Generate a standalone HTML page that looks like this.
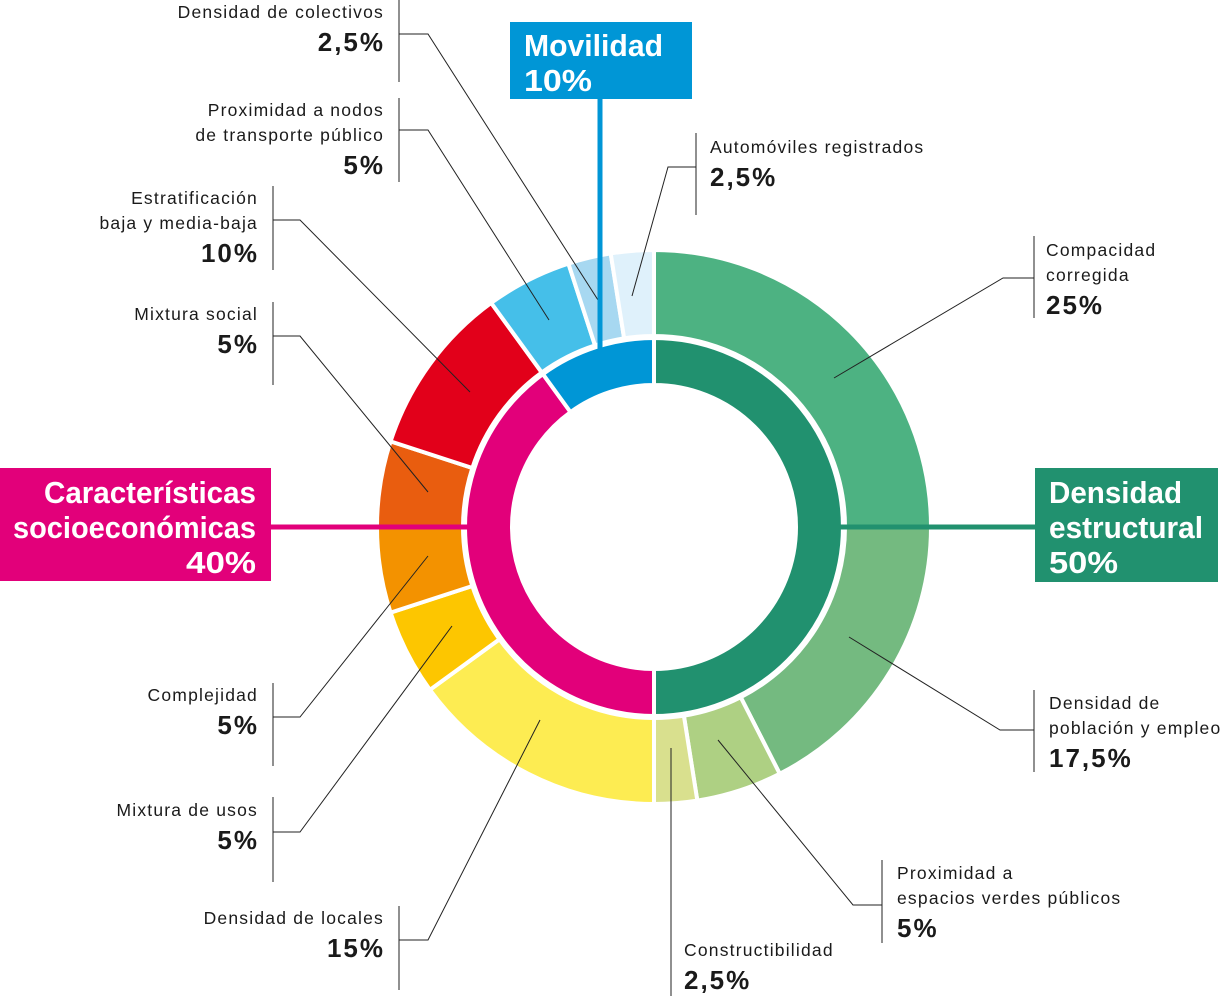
<!DOCTYPE html>
<html><head><meta charset="utf-8"><style>
body{margin:0;background:#fff;}
svg{display:block;font-family:"Liberation Sans",sans-serif;}
.l{font-size:17.5px;fill:#1a1a1a;letter-spacing:1.2px;}
.p{font-size:26px;font-weight:bold;fill:#1a1a1a;letter-spacing:2px;}
.b{font-size:31px;font-weight:bold;fill:#fff;}
</style></head><body>
<svg id="s" width="1231" height="996" viewBox="0 0 1231 996" xmlns="http://www.w3.org/2000/svg">
<g id="donut"></g>
<g stroke="#222" stroke-width="1" fill="none">
<line x1="399" y1="0" x2="399" y2="82"/><polyline points="399,34 428,34 598,300"/>
<line x1="399" y1="98" x2="399" y2="182"/><polyline points="399,130 428,130 549,320"/>
<line x1="273" y1="186" x2="273" y2="270"/><polyline points="273,220 300,220 470,392"/>
<line x1="273" y1="302" x2="273" y2="385"/><polyline points="273,336 300,336 428,492"/>
<line x1="273" y1="683" x2="273" y2="766"/><polyline points="273,717 300,717 428,556"/>
<line x1="273" y1="797" x2="273" y2="882"/><polyline points="273,832 300,832 452,626"/>
<line x1="399" y1="906" x2="399" y2="990"/><polyline points="399,940 428,940 540,720"/>
<line x1="671" y1="748" x2="671" y2="996"/>
<line x1="882" y1="860" x2="882" y2="943"/><polyline points="882,905 853,905 718,740"/>
<line x1="1034" y1="690" x2="1034" y2="772"/><polyline points="1034,730 1000,730 849,637"/>
<line x1="1034" y1="236" x2="1034" y2="318"/><polyline points="1034,278 1003,278 834,378"/>
<line x1="696" y1="133" x2="696" y2="215"/><polyline points="696,167 668,167 632,296"/>
</g>
<line x1="271" y1="527" x2="470" y2="527" stroke="#e2007a" stroke-width="5"/>
<line x1="838" y1="527" x2="1036" y2="527" stroke="#21916f" stroke-width="5"/>
<line x1="600" y1="98" x2="600" y2="350" stroke="#0096d6" stroke-width="5"/>
<rect x="0" y="468" width="271" height="113" fill="#e2007a"/>
<text class="b" x="44" y="503" textLength="212" lengthAdjust="spacingAndGlyphs">Características</text>
<text class="b" x="13" y="538" textLength="243" lengthAdjust="spacingAndGlyphs">socioeconómicas</text>
<text class="b" x="186" y="573" textLength="70" lengthAdjust="spacingAndGlyphs">40%</text>
<rect x="1035" y="468" width="183" height="114" fill="#21916f"/>
<text class="b" x="1049" y="503" textLength="133" lengthAdjust="spacingAndGlyphs">Densidad</text>
<text class="b" x="1049" y="538" textLength="154" lengthAdjust="spacingAndGlyphs">estructural</text>
<text class="b" x="1049" y="573" textLength="69" lengthAdjust="spacingAndGlyphs">50%</text>
<rect x="510" y="22" width="182" height="77" fill="#0096d6"/>
<text class="b" x="524" y="56" textLength="139" lengthAdjust="spacingAndGlyphs">Movilidad</text>
<text class="b" x="524" y="91" textLength="68" lengthAdjust="spacingAndGlyphs">10%</text>
<g class="l" text-anchor="end">
<text x="384" y="18">Densidad de colectivos</text>
<text x="384" y="116">Proximidad a nodos</text><text x="384" y="141">de transporte público</text>
<text x="258" y="204">Estratificación</text><text x="258" y="229">baja y media-baja</text>
<text x="258" y="320">Mixtura social</text>
<text x="258" y="701">Complejidad</text>
<text x="258" y="816">Mixtura de usos</text>
<text x="384" y="924">Densidad de locales</text>
</g>
<g class="p" text-anchor="end">
<text x="385" y="51">2,5%</text><text x="385" y="174">5%</text><text x="259" y="262">10%</text>
<text x="259" y="353">5%</text><text x="259" y="734">5%</text><text x="259" y="849">5%</text><text x="385" y="957">15%</text>
</g>
<g class="l">
<text x="684" y="956">Constructibilidad</text>
<text x="897" y="879">Proximidad a</text><text x="897" y="904">espacios verdes públicos</text>
<text x="1049" y="709">Densidad de</text><text x="1049" y="734">población y empleo</text>
<text x="1046" y="256">Compacidad</text><text x="1046" y="281">corregida</text>
<text x="710" y="153">Automóviles registrados</text>
</g>
<g class="p">
<text x="684" y="989">2,5%</text><text x="897" y="937">5%</text><text x="1049" y="767">17,5%</text>
<text x="1046" y="314">25%</text><text x="710" y="186">2,5%</text>
</g>
</svg>
<script>
var cx=654,cy=527,g=document.getElementById('donut');
function arc(a0,a1,r0,r1,c){
 function pt(a,r){var t=(a-90)*Math.PI/180;return (cx+r*Math.cos(t)).toFixed(2)+','+(cy+r*Math.sin(t)).toFixed(2);}
 var lg=(a1-a0)>180?1:0;
 var d='M'+pt(a0,r1)+'A'+r1+','+r1+' 0 '+lg+' 1 '+pt(a1,r1)+'L'+pt(a1,r0)+'A'+r0+','+r0+' 0 '+lg+' 0 '+pt(a0,r0)+'Z';
 var p=document.createElementNS('http://www.w3.org/2000/svg','path');
 p.setAttribute('d',d);p.setAttribute('fill',c);p.setAttribute('stroke','#fff');p.setAttribute('stroke-width','4');g.appendChild(p);
}
var outer=[[0,90,'#4db282'],[90,153,'#74ba80'],[153,171,'#aed083'],[171,180,'#d9e08e'],[180,234,'#fdec52'],[234,252,'#fdc600'],[252,270,'#f39200'],[270,288,'#e95d0f'],[288,324,'#e2001a'],[324,342,'#45bfe9'],[342,351,'#a7d8f1'],[351,360,'#dff1fb']];
outer.forEach(function(s){arc(s[0],s[1],191,277,s[2]);});
[[0,180,'#21916f'],[180,324,'#e2007a'],[324,360,'#0096d6']].forEach(function(s){arc(s[0],s[1],142,189,s[2]);});
</script>
</body></html>
